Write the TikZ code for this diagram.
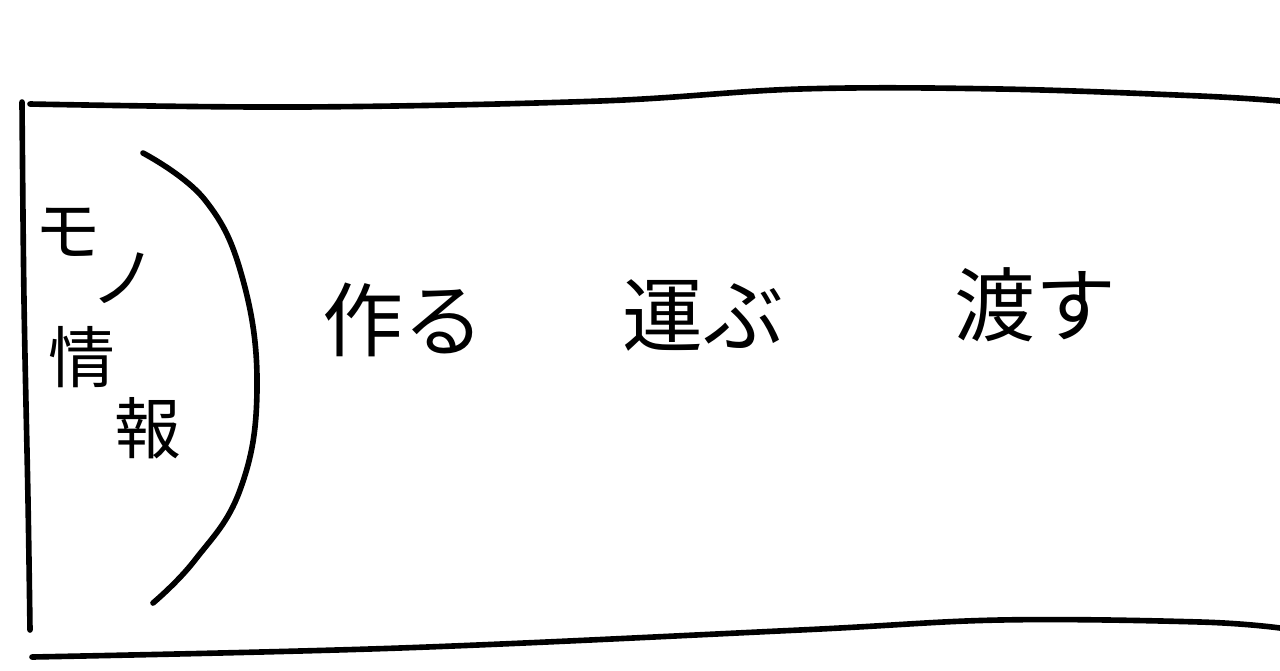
\documentclass[tikz,border=0pt]{standalone}
\usepackage{fontspec}
\newfontfamily\jpfont{Noto Sans CJK JP}
\usepackage{tikz}
\tikzstyle{sketch} = [draw, line width=3.2pt, line cap=round, line join=round]
\tikzstyle{word} = [font=\jpfont\fontsize{46}{50}\selectfont, inner sep=0pt]
\tikzset{
  tag/.style ={word, font=\jpfont\fontsize{38}{42}\selectfont}
}

\begin{document}
\begin{tikzpicture}[x=0.2mm, y=-0.2mm]
  \useasboundingbox (0,0) rectangle (1280,670);
  % frame, open on the right
  \draw[sketch] plot[smooth, tension=0.6] coordinates {(30,104) (300,107) (600,101) (800,89) (1000,89) (1200,96) (1280,101)};
  \draw[sketch] plot[smooth, tension=0.6] coordinates {(22,102) (24,300) (28,500) (30,630)};
  \draw[sketch] plot[smooth, tension=0.6] coordinates {(32,657) (400,648) (800,630) (1000,620) (1200,622) (1280,628)};
  % arc
  \draw[sketch] plot[smooth, tension=0.7] coordinates {(143,153) (205,200) (243,280) (257,390) (240,490) (195,560) (153,603)};

  \node[tag] (mo) at (68,232) {モ};
  \node[tag] (no) at (124,278) {ノ};
  \node[tag] (jo) at (82,357) {情};
  \node[tag] (ho) at (148,428) {報};

  \node[word] (make) at (403,320) {作る};
  \node[word] (carry) at (703,315) {運ぶ};
  \node[word] (hand) at (1035,305) {渡す};
\end{tikzpicture}
\end{document}
